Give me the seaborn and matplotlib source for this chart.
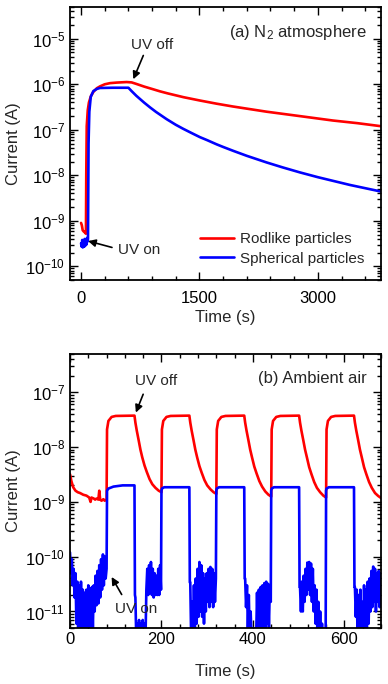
import numpy as np
import pandas as pd
import matplotlib
matplotlib.use("Agg")
import matplotlib.pyplot as plt
from matplotlib.ticker import MultipleLocator, LogLocator, NullFormatter
import seaborn as sns

# ---- panel (a): N2 atmosphere ----
red_a_t = [0, 10, 21, 35, 50, 62, 66, 72, 85, 100, 125, 156, 200, 240, 300, 367, 450, 578, 641,
           700, 800, 900, 1000, 1100, 1300, 1506, 1717, 1925, 2350, 2772, 3190, 3500, 3800]
red_a_v = [9e-10, 8e-10, 6.2e-10, 5.8e-10, 5.5e-10, 5.2e-10, 1e-8, 1.2e-7, 2.7e-7, 4e-7, 5.5e-7,
           6.8e-7, 8.2e-7, 9e-7, 1e-6, 1.06e-6, 1.09e-6, 1.12e-6, 1.1e-6,
           1.02e-6, 8.9e-7, 7.9e-7, 7e-7, 6.3e-7, 5.2e-7, 4.4e-7, 3.75e-7, 3.25e-7, 2.5e-7,
           2e-7, 1.6e-7, 1.4e-7, 1.2e-7]

blue_a_t = [0, 8, 15, 22, 30, 38, 45, 52, 60, 68, 75, 82, 88, 95, 105, 123, 156, 200, 240, 400,
            600, 640, 700, 750, 800, 875, 950, 1085, 1200, 1295, 1400, 1506, 1600, 1717, 1800,
            1928, 2100, 2350, 2550, 2772, 3000, 3405, 3800]
blue_a_v = [3.2e-10, 2.7e-10, 3.8e-10, 2.6e-10, 3.5e-10, 2.7e-10, 4e-10, 2.8e-10, 3.6e-10, 3e-10,
            4.2e-10, 3.5e-10, 4e-10, 5e-8, 2.5e-7, 5.3e-7, 7.1e-7, 7.9e-7, 8.3e-7, 8.4e-7,
            8.4e-7, 7.1e-7, 5.6e-7, 4.7e-7, 3.95e-7, 3.1e-7, 2.47e-7, 1.71e-7, 1.29e-7, 1.05e-7,
            8.5e-8, 6.9e-8, 5.9e-8, 4.8e-8, 4.2e-8, 3.45e-8, 2.68e-8, 1.92e-8, 1.5e-8, 1.16e-8,
            9.1e-9, 6.15e-9, 4.4e-9]

# ---- panel (b): ambient air ----
red_b_t = [0, 3, 7, 12, 17, 22, 29, 36, 42, 45, 47, 52, 55, 58, 62, 64, 66, 69, 73, 76, 80,
           81, 84, 91, 100, 141, 143, 146, 150, 154, 158, 163, 168, 174, 180, 187, 194, 200,
           201, 204, 211, 220, 261, 263, 266, 270, 274, 278, 283, 288, 294, 300, 307, 314, 320,
           321, 324, 331, 340, 381, 383, 386, 390, 394, 398, 403, 408, 414, 420, 427, 434, 440,
           441, 444, 451, 460, 501, 503, 506, 510, 514, 518, 523, 528, 534, 540, 547, 554, 560,
           561, 564, 571, 580, 621, 623, 626, 630, 634, 638, 643, 648, 654, 660, 667, 674, 680]
red_b_v = [3.2e-9, 2.4e-9, 1.85e-9, 1.6e-9, 1.5e-9, 1.45e-9, 1.35e-9, 1.3e-9, 1.2e-9, 1.0e-9,
           1.2e-9, 1.15e-9, 1.1e-9, 1.15e-9, 1.1e-9, 1.6e-9, 1.1e-9, 1.05e-9, 1.12e-9, 1.05e-9, 1.1e-9,
           2.1e-8, 3e-8, 3.55e-8, 3.7e-8, 3.75e-8, 2.8e-8, 2e-8, 1.35e-8, 9e-9, 6.5e-9, 4.6e-9,
           3.5e-9, 2.6e-9, 2.1e-9, 1.8e-9, 1.6e-9, 1.5e-9,
           2.1e-8, 3e-8, 3.55e-8, 3.7e-8, 3.75e-8, 2.8e-8, 2e-8, 1.35e-8, 9e-9, 6.5e-9, 4.5e-9,
           3.4e-9, 2.5e-9, 2e-9, 1.7e-9, 1.5e-9, 1.4e-9,
           2.1e-8, 3e-8, 3.55e-8, 3.7e-8, 3.75e-8, 2.8e-8, 2e-8, 1.35e-8, 9e-9, 6.5e-9, 4.4e-9,
           3.3e-9, 2.4e-9, 1.9e-9, 1.55e-9, 1.35e-9, 1.25e-9,
           2.1e-8, 3e-8, 3.55e-8, 3.7e-8, 3.75e-8, 2.8e-8, 2e-8, 1.35e-8, 9e-9, 6.5e-9, 4.3e-9,
           3.2e-9, 2.3e-9, 1.8e-9, 1.5e-9, 1.3e-9, 1.2e-9,
           2.1e-8, 3e-8, 3.55e-8, 3.7e-8, 3.75e-8, 2.8e-8, 2e-8, 1.35e-8, 9e-9, 6.5e-9, 4.3e-9,
           3.2e-9, 2.3e-9, 1.8e-9, 1.45e-9, 1.28e-9, 1.18e-9]

blue_b_t = [0, 2, 4, 6, 8, 10, 12, 14, 16, 18, 20, 22, 24, 26, 28, 30, 32, 34, 36, 38,
            40, 42, 44, 46, 48, 50, 52, 54, 56, 58, 60, 62, 64, 66, 68, 70, 72, 74, 76, 78,
            80, 81, 84, 95, 115, 141,
            142, 143, 145, 147, 149, 151, 153, 155, 157, 159, 161, 163, 165, 167, 169, 171,
            173, 175, 177, 179, 181, 183, 185, 187, 189, 191, 193, 195, 197, 199,
            200, 201, 206, 261,
            262, 263, 265, 267, 269, 271, 273, 275, 277, 279, 281, 283, 285, 287, 289, 291,
            293, 295, 297, 299, 301, 303, 305, 307, 309, 311, 313, 315, 317, 319,
            320, 321, 326, 381,
            382, 383, 385, 387, 389, 391, 393, 395, 397, 399, 401, 403, 405, 407, 409, 411,
            413, 415, 417, 419, 421, 423, 425, 427, 429, 431, 433, 435, 437, 439,
            440, 441, 446, 501,
            502, 503, 505, 507, 509, 511, 513, 515, 517, 519, 521, 523, 525, 527, 529, 531,
            533, 535, 537, 539, 541, 543, 545, 547, 549, 551, 553, 555, 557, 559,
            560, 561, 566, 621,
            622, 623, 625, 627, 629, 631, 633, 635, 637, 639, 641, 643, 645, 647, 649, 651,
            653, 655, 657, 659, 661, 663, 665, 667, 669, 671, 673, 675, 677, 679, 680]
blue_b_v = [1.2e-10, 5e-11, 9e-11, 3e-11, 6e-11, 1.8e-11, 5e-11, 6e-12, 3.5e-11, 3e-12,
            3e-11, 3e-12, 3.5e-11, 3e-12, 2.5e-11, 4e-12, 2.2e-11, 3e-12, 2.5e-11, 3e-12,
            3e-11, 4e-12, 2.6e-11, 3e-12, 2.8e-11, 5e-12, 3e-11, 1e-11, 4.5e-11, 1.3e-11,
            5.5e-11, 1.4e-11, 7e-11, 1.8e-11, 9e-11, 2.5e-11, 1.1e-10, 3e-11, 1e-10, 4e-11,
            6e-11, 1.6e-9, 1.75e-9, 1.9e-9, 2e-9, 2e-9,
            2e-11, 1.8e-11, 3e-12, 6e-12, 3e-12, 7e-12, 3e-12, 6e-12, 3e-12, 7e-12, 3e-12,
            6e-12, 3e-12, 2.5e-11, 6e-11, 2e-11, 7e-11, 2.2e-11, 8e-11, 2e-11, 6e-11,
            1.8e-11, 5e-11, 2e-11, 4.5e-11, 2e-11, 6e-11, 2e-11, 7e-11, 2.5e-11,
            1.6e-9, 1.75e-9, 1.85e-9, 1.85e-9,
            3.4e-11, 3.4e-11, 3e-12, 1.5e-11, 3e-12, 3e-11, 4e-12, 4e-11, 6e-12, 6e-11,
            8e-12, 8e-11, 1e-11, 7e-11, 8e-12, 5e-11, 6e-12, 4e-11, 1e-11, 5e-11,
            1.5e-11, 6e-11, 1.2e-11, 6.5e-11, 1.5e-11, 6e-11, 1.2e-11, 5e-11, 1.5e-11, 4e-11,
            1.6e-9, 1.75e-9, 1.85e-9, 1.85e-9,
            4e-11, 4e-11, 1.2e-11, 3e-11, 5e-12, 2e-11, 3e-12, 1e-11, 3e-12, 3e-12,
            5e-12, 3e-12, 3e-12, 3e-12, 2.2e-11, 3e-12, 2.5e-11, 4e-12, 2.8e-11, 3e-12,
            3e-11, 5e-12, 3.3e-11, 4e-12, 3.5e-11, 6e-12, 3.2e-11, 5e-12, 3e-11, 1.5e-11,
            1.6e-9, 1.75e-9, 1.85e-9, 1.85e-9,
            2.8e-11, 2.8e-11, 1e-11, 3.5e-11, 1e-11, 4.5e-11, 1.5e-11, 6e-11, 2e-11, 7.8e-11,
            2.5e-11, 8e-11, 2e-11, 7.5e-11, 1.5e-11, 6e-11, 1e-11, 3e-11, 6e-12, 2.5e-11,
            4e-12, 1.5e-11, 3e-12, 1e-11, 3e-12, 6e-12, 3e-12, 3e-12, 3e-12, 3e-12,
            1.6e-9, 1.75e-9, 1.85e-9, 1.85e-9,
            2.8e-11, 2.8e-11, 8e-12, 2.5e-11, 3e-12, 2e-11, 3e-12, 2.5e-11, 4e-12, 1.5e-11,
            3e-12, 3e-11, 5e-12, 2.5e-11, 3e-12, 3.5e-11, 6e-12, 4e-11, 1e-11, 5.5e-11,
            1.2e-11, 6.6e-11, 1.5e-11, 6e-11, 1e-11, 5e-11, 1.5e-11, 5.5e-11, 1.2e-11, 5e-11,
            2e-11]

sns.set_theme(style="ticks")
plt.rcParams["font.family"] = ["Liberation Sans", "DejaVu Sans"]
plt.rcParams["mathtext.fontset"] = "custom"
plt.rcParams["mathtext.rm"] = "Liberation Sans"
plt.rcParams["mathtext.default"] = "regular"

RED = "#ff0000"
BLUE = "#0000ff"

fig = plt.figure(figsize=(3.88, 6.84), dpi=100)
ax1 = fig.add_axes([0.1804, 0.5906, 0.8015, 0.3992])
ax2 = fig.add_axes([0.1804, 0.0819, 0.8015, 0.4006])

df_ra = pd.DataFrame({"t": red_a_t, "I": red_a_v})
df_ba = pd.DataFrame({"t": blue_a_t, "I": blue_a_v})
df_rb = pd.DataFrame({"t": red_b_t, "I": red_b_v})
df_bb = pd.DataFrame({"t": blue_b_t, "I": blue_b_v})

lw = 1.9
sns.lineplot(data=df_ra, x="t", y="I", ax=ax1, color=RED, lw=lw, sort=False,
             estimator=None, label="Rodlike particles")
sns.lineplot(data=df_ba, x="t", y="I", ax=ax1, color=BLUE, lw=lw, sort=False,
             estimator=None, label="Spherical particles")
sns.lineplot(data=df_rb, x="t", y="I", ax=ax2, color=RED, lw=lw, sort=False, estimator=None)
sns.lineplot(data=df_bb, x="t", y="I", ax=ax2, color=BLUE, lw=lw, sort=False, estimator=None)

for ax in (ax1, ax2):
    ax.set_yscale("log")
    ax.yaxis.set_major_locator(LogLocator(base=10, numticks=20))
    ax.yaxis.set_minor_locator(LogLocator(base=10, subs=np.arange(2, 10), numticks=20))
    ax.yaxis.set_minor_formatter(NullFormatter())
    ax.tick_params(which="both", direction="in", top=True, right=True, labelsize=12,
                   colors="black", width=1)
    ax.tick_params(which="major", length=6)
    ax.tick_params(which="minor", length=3)
    for s in ax.spines.values():
        s.set_linewidth(1.3)
        s.set_color("black")
    ax.set_ylabel("Current (A)", fontsize=12, labelpad=3)

ax1.tick_params(axis="x", which="major", pad=8)
ax1.set_xlabel("Time (s)", fontsize=12, labelpad=3)
ax2.tick_params(axis="x", which="major", pad=3)
ax2.set_xlabel("Time (s)", fontsize=12, labelpad=12)

ax1.set_xlim(-140, 3800)
ax1.set_ylim(5e-11, 5e-5)
ax1.xaxis.set_major_locator(MultipleLocator(1500))
ax1.xaxis.set_minor_locator(MultipleLocator(300))

ax2.set_xlim(0, 680)
ax2.set_ylim(5e-12, 5e-7)
ax2.xaxis.set_major_locator(MultipleLocator(200))
ax2.xaxis.set_minor_locator(MultipleLocator(40))

arrow = dict(arrowstyle="-|>", color="black", lw=1.2, mutation_scale=11, shrinkA=0, shrinkB=0)

ax1.text(0.955, 0.908, "(a) N$_2$ atmosphere", transform=ax1.transAxes, ha="right",
         va="center", fontsize=12)
ax1.text(905, 7.2e-6, "UV off", ha="center", va="center", fontsize=11)
ax1.annotate("", xy=(662, 1.29e-6), xytext=(789, 4.3e-6), arrowprops=arrow)
ax1.text(468, 2.3e-10, "UV on", ha="left", va="center", fontsize=11)
ax1.annotate("", xy=(89, 3.6e-10), xytext=(392, 2.6e-10), arrowprops=arrow)
ax1.legend(loc="lower right", bbox_to_anchor=(0.985, 0.008), frameon=False, fontsize=11,
           handlelength=2.2, handletextpad=0.4, labelspacing=0.35, borderpad=0.3)

ax2.text(0.955, 0.912, "(b) Ambient air", transform=ax2.transAxes, ha="right",
         va="center", fontsize=12)
ax2.text(188, 1.6e-7, "UV off", ha="center", va="center", fontsize=11)
ax2.annotate("", xy=(144, 4.26e-8), xytext=(160, 9.2e-8), arrowprops=arrow)
ax2.text(144, 1.09e-11, "UV on", ha="center", va="center", fontsize=11)
ax2.annotate("", xy=(91, 4.26e-11), xytext=(113, 2.04e-11), arrowprops=arrow)

fig.savefig("out.png", dpi=100)
